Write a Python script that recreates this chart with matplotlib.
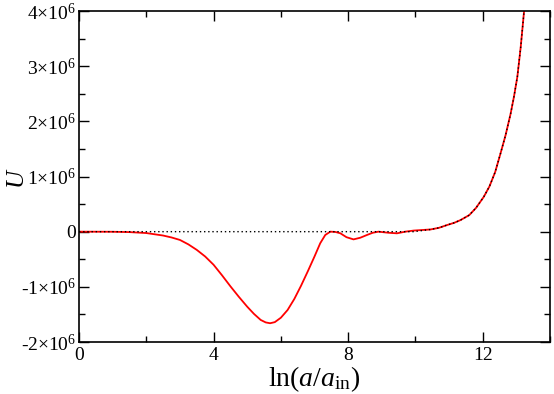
import matplotlib.pyplot as plt
from matplotlib.ticker import MultipleLocator, FuncFormatter

plt.rcParams['font.family'] = 'Liberation Serif'
plt.rcParams['mathtext.fontset'] = 'custom'
plt.rcParams['mathtext.rm'] = 'Liberation Serif'
plt.rcParams['mathtext.it'] = 'Liberation Serif:italic'

# red curve U against ln(a/a_in), U in units of 1e6
x_red = [0.0, 1.0, 1.5, 2.0, 2.5, 2.75, 3.0, 3.25, 3.5, 3.75, 4.0, 4.25, 4.5,
         4.75, 5.0, 5.2, 5.4, 5.55, 5.68, 5.82, 6.0, 6.2, 6.4, 6.6, 6.8, 7.0,
         7.17, 7.32, 7.47, 7.62, 7.77, 7.95, 8.16, 8.36, 8.56, 8.73, 8.9, 9.2,
         9.45, 9.7, 9.95, 10.2, 10.45, 10.7, 10.94, 11.15, 11.34, 11.6, 11.8,
         12.03, 12.2, 12.37, 12.53, 12.68, 12.83, 12.93, 13.03, 13.13, 13.23]
u_red = [0.0, -0.002, -0.008, -0.025, -0.07, -0.105, -0.15, -0.23, -0.33,
         -0.45, -0.60, -0.79, -0.99, -1.18, -1.36, -1.49, -1.60, -1.645, -1.66,
         -1.64, -1.56, -1.42, -1.22, -0.98, -0.72, -0.45, -0.21, -0.06, 0.0,
         -0.005, -0.03, -0.10, -0.14, -0.11, -0.06, -0.02, 0.0, -0.02, -0.03,
         0.0, 0.02, 0.03, 0.04, 0.07, 0.12, 0.16, 0.21, 0.30, 0.43, 0.63, 0.82,
         1.08, 1.42, 1.75, 2.14, 2.45, 2.81, 3.35, 4.0]

# black dotted reference curve
x_dot = [0.0, 9.95, 10.2, 10.45, 10.7, 10.94, 11.15, 11.34, 11.6, 11.8, 12.03,
         12.2, 12.37, 12.53, 12.68, 12.83, 12.93, 13.03, 13.13, 13.23]
u_dot = [0.0, 0.0, 0.02, 0.04, 0.07, 0.12, 0.16, 0.21, 0.30, 0.43, 0.63, 0.82,
         1.08, 1.42, 1.75, 2.14, 2.45, 2.81, 3.35, 4.0]

fig = plt.figure(figsize=(5.54, 3.94), dpi=100)
ax = fig.add_axes([79 / 554, 1 - 342 / 394, 471 / 554, 331 / 394])

ax.plot(x_red, [u * 1e6 for u in u_red], color='red', lw=1.3)
ax.plot(x_dot, [u * 1e6 for u in u_dot], color='black', lw=1.0, ls=(0, (1, 2)))

ax.set_xlim(0, 14)
ax.set_ylim(-2e6, 4e6)
ax.xaxis.set_major_locator(MultipleLocator(4))
ax.xaxis.set_minor_locator(MultipleLocator(2))
ax.yaxis.set_major_locator(MultipleLocator(1e6))
ax.yaxis.set_minor_locator(MultipleLocator(5e5))


def yfmt(v, pos):
    n = int(round(v / 1e6))
    if n == 0:
        return '0'
    if n < 0:
        return '-%d$\\times10^{6}$' % (-n)
    return '%d$\\times10^{6}$' % n


ax.yaxis.set_major_formatter(FuncFormatter(yfmt))
ax.tick_params(which='both', direction='in', top=True, right=True,
               labelsize=14, width=1.0)
ax.tick_params(which='major', length=7)
ax.tick_params(which='minor', length=4)
ax.tick_params(axis='y', pad=2)
for s in ax.spines.values():
    s.set_linewidth(1.2)

ax.set_xlabel('ln($a$/$a_{\\mathrm{in}}$)', fontsize=20, labelpad=0)
ax.set_ylabel('U', fontsize=18, style='italic')
ax.yaxis.set_label_coords(-0.11, 0.5)

fig.savefig('out.png', dpi=100)
